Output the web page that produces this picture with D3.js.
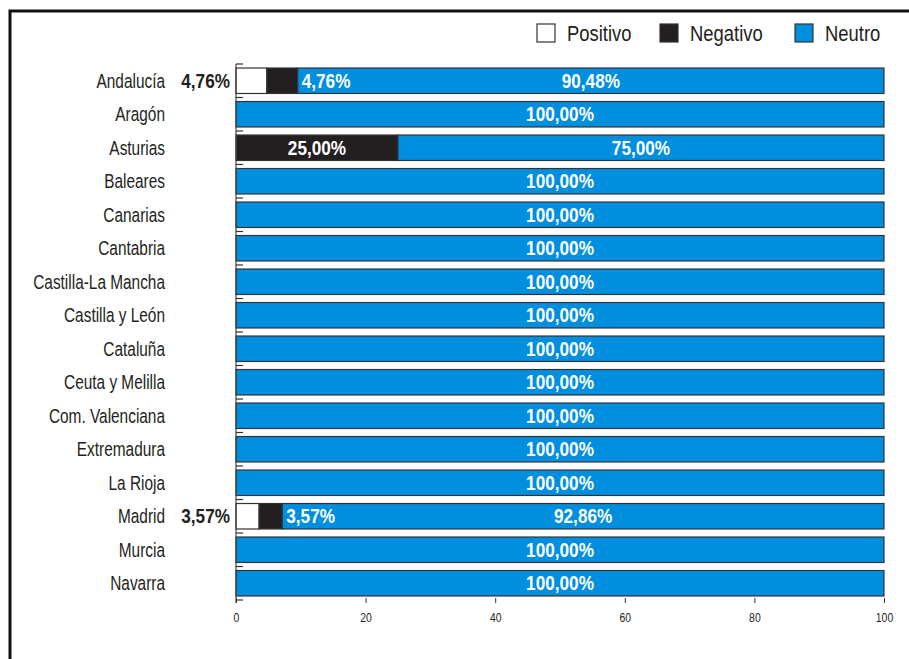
<!DOCTYPE html>
<html><head><meta charset="utf-8">
<script src="https://cdn.jsdelivr.net/npm/d3@7"></script>
<style>
body{margin:0;background:#fff;}
svg text{font-family:"Liberation Sans","Arial",sans-serif;}
</style></head><body>
<svg id="c" width="909" height="659"></svg>
<script>
const categories=["Andalucía","Aragón","Asturias","Baleares","Canarias","Cantabria","Castilla-La Mancha","Castilla y León","Cataluña","Ceuta y Melilla","Com. Valenciana","Extremadura","La Rioja","Madrid","Murcia","Navarra"];
const positivo=[4.76,0,0,0,0,0,0,0,0,0,0,0,0,3.57,0,0];
const negativo=[4.76,0,25.00,0,0,0,0,0,0,0,0,0,0,3.57,0,0];
const neutro=[90.48,100,75.00,100,100,100,100,100,100,100,100,100,100,92.86,100,100];
const seriesNames=["Positivo","Negativo","Neutro"];
const xTicks=[0,20,40,60,80,100];
const colors={Positivo:"#ffffff",Negativo:"#231f20",Neutro:"#008fdf"};

const svg=d3.select("#c");
svg.append("rect").attr("x",10).attr("y",11).attr("width",960).attr("height",700)
  .attr("fill","none").attr("stroke","#111").attr("stroke-width",3);

function label(x0,y0,str,o){
  return svg.append("text")
    .attr("transform",`translate(${x0},${y0}) scale(${o.sx||0.82},1)`)
    .attr("dy","0.36em").attr("text-anchor",o.anchor||"start")
    .attr("font-size",o.size).attr("font-weight",o.bold?"bold":"normal")
    .attr("fill",o.fill||"#231f20").text(str);
}

const m={left:236,right:884,top:64,bottom:600};
const x=d3.scaleLinear().domain([0,100]).range([m.left,m.right]);
const y=d3.scaleBand().domain(categories).range([m.top,m.bottom]).paddingInner(0.24).paddingOuter(0.12);

const data=categories.map((c,i)=>({cat:c,Positivo:positivo[i],Negativo:negativo[i],Neutro:neutro[i]}));
const stack=d3.stack().keys(seriesNames)(data);

const g=svg.append("g");
stack.forEach(s=>{
  g.selectAll(null).data(s.filter(d=>d[1]-d[0]>0)).enter().append("rect")
    .attr("x",d=>x(d[0])).attr("y",d=>y(d.data.cat))
    .attr("width",d=>x(d[1])-x(d[0])).attr("height",y.bandwidth())
    .attr("fill",colors[s.key]).attr("stroke","#333").attr("stroke-width",1.2);
});

const step=y.step();
svg.append("line").attr("x1",m.left).attr("x2",m.left).attr("y1",m.top).attr("y2",m.bottom+3)
  .attr("stroke","#444").attr("stroke-width",1.2);
categories.forEach((c,i)=>{
  const yy=y(c)-y.paddingInner()*step/2;
  svg.append("line").attr("x1",m.left).attr("x2",m.left+7).attr("y1",yy).attr("y2",yy).attr("stroke","#333").attr("stroke-width",1.2);
});
svg.append("line").attr("x1",m.left).attr("x2",m.left+7).attr("y1",m.bottom).attr("y2",m.bottom).attr("stroke","#333").attr("stroke-width",1.2);

categories.forEach(c=>label(165,y(c)+y.bandwidth()/2,c,{anchor:"end",size:19.5,sx:0.79}));

const xa=svg.append("g").attr("transform",`translate(0,${m.bottom-2})`)
  .call(d3.axisBottom(x).tickValues(xTicks).tickSize(5).tickPadding(10));
xa.select(".domain").remove();
xa.selectAll("text").attr("font-size",13).attr("fill","#231f20").attr("transform","scale(0.8,1)");
xa.selectAll("line").attr("stroke","#333");

const fmt=v=>v.toFixed(2).replace(".",",")+"%";
const B={size:20,bold:true,sx:0.86};
data.forEach((d,i)=>{
  const cy=y(d.cat)+y.bandwidth()/2;
  if(d.Positivo>0){
    label(m.left-6,cy,fmt(d.Positivo),Object.assign({},B,{anchor:"end"}));
  }
  if(d.Negativo>0){
    const x0=x(d.Positivo),x1=x(d.Positivo+d.Negativo);
    if(x1-x0>60) label((x0+x1)/2,cy,fmt(d.Negativo),Object.assign({},B,{anchor:"middle",fill:"#fff"}));
    else label(x1+4,cy,fmt(d.Negativo),Object.assign({},B,{anchor:"start",fill:"#fff"}));
  }
  const n0=x(d.Positivo+d.Negativo),n1=x(100);
  label((n0+n1)/2,cy,fmt(d.Neutro),Object.assign({},B,{anchor:"middle",fill:"#fff"}));
});

const legX=[537,660,795];
seriesNames.forEach((s,i)=>{
  svg.append("rect").attr("x",legX[i]).attr("y",24).attr("width",18).attr("height",18)
    .attr("fill",colors[s]).attr("stroke","#333").attr("stroke-width",1.2);
  label(legX[i]+30,33,s,{size:22.5,sx:0.82});
});
</script></body></html>
